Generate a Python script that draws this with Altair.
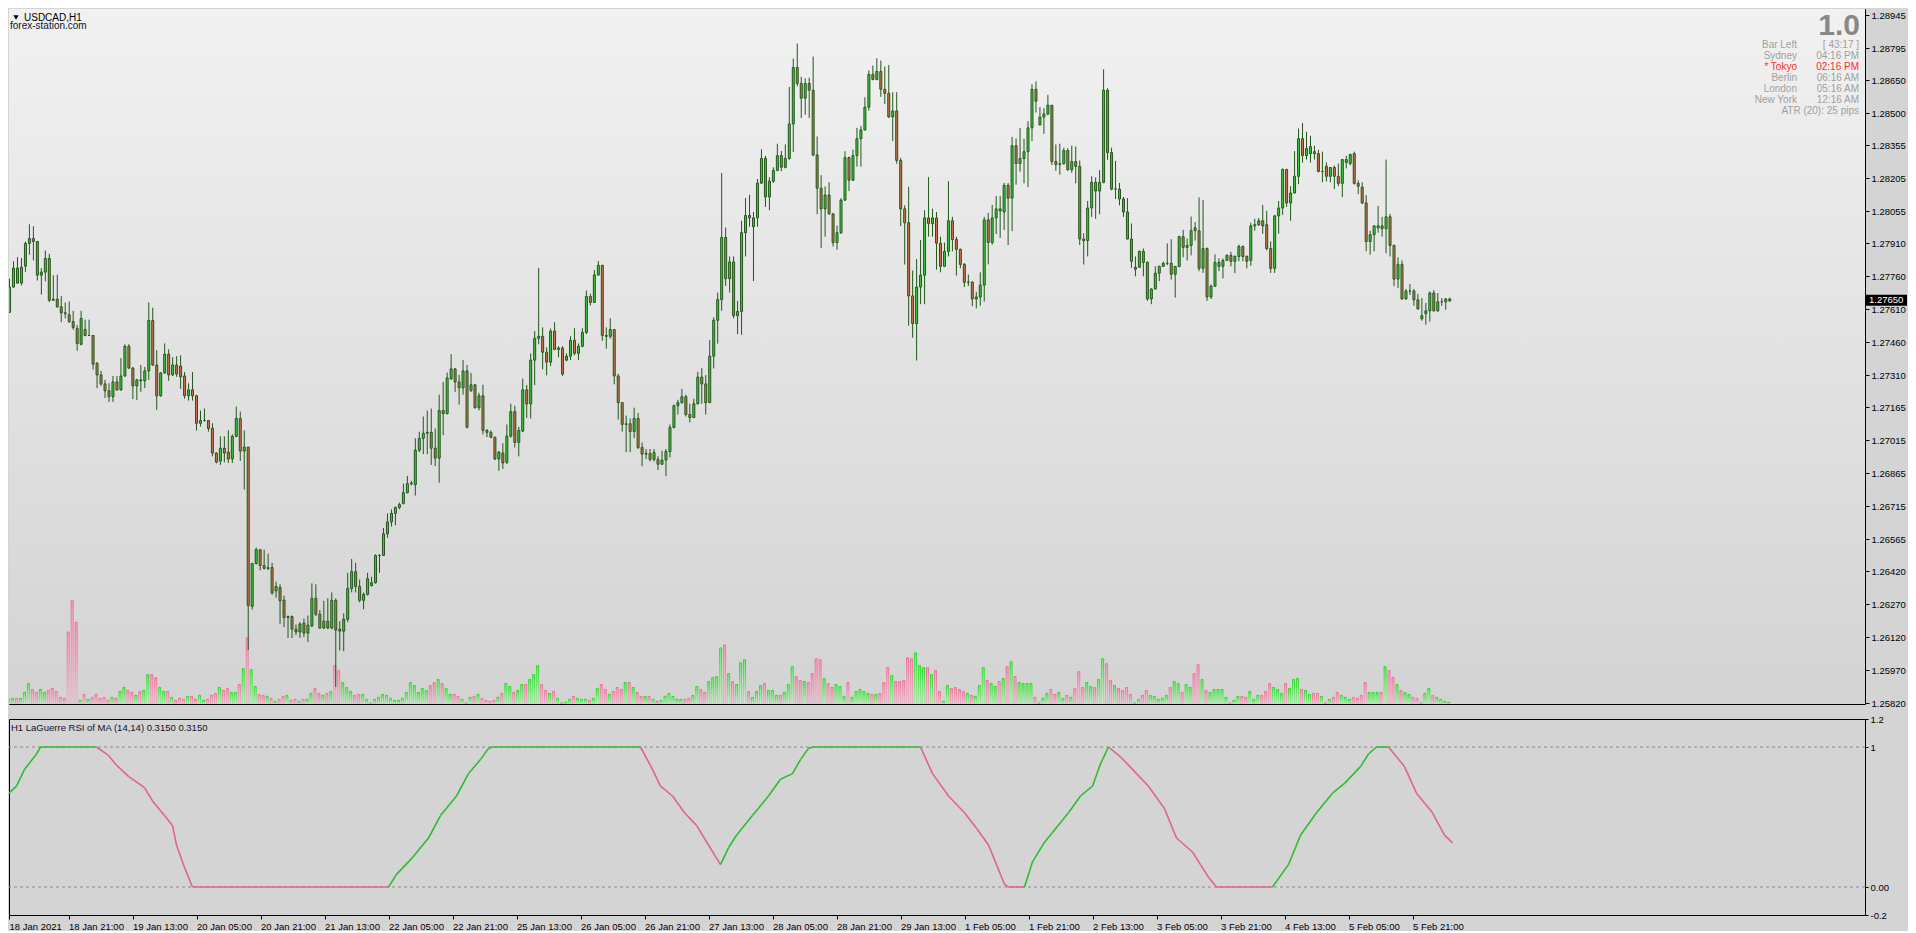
import altair as alt
import pandas as pd

# ---------------- data ----------------
OPEN = [
1.27595,1.27710,1.27796,1.27728,1.27805,1.27908,1.27930,1.27917,1.27764,1.27778,
1.27840,1.27655,1.27655,1.27620,1.27593,1.27584,1.27553,1.27522,1.27450,1.27517,
1.27490,1.27490,1.27364,1.27311,1.27270,1.27239,1.27212,1.27279,1.27243,1.27306,
1.27441,1.27342,1.27261,1.27288,1.27284,1.27329,1.27558,1.27356,1.27216,1.27320,
1.27405,1.27311,1.27356,1.27351,1.27306,1.27216,1.27243,1.27216,1.27091,1.27104,
1.27104,1.27068,1.26956,1.26920,1.26978,1.26960,1.26929,1.27032,1.27113,1.26965,
1.26983,1.26260,1.26454,1.26517,1.26445,1.26432,1.26436,1.26330,1.26345,1.26288,
1.26209,1.26213,1.26156,1.26143,1.26183,1.26138,1.26171,1.26296,1.26224,1.26161,
1.26192,1.26161,1.26287,1.26156,1.26147,1.26201,1.26341,1.26417,1.26350,1.26287,
1.26314,1.26354,1.26367,1.26490,1.26491,1.26589,1.26643,1.26682,1.26709,1.26727,
1.26776,1.26817,1.26812,1.26969,1.27023,1.27046,1.27050,1.26978,1.26933,1.27149,
1.27135,1.27293,1.27338,1.27279,1.27252,1.27329,1.27239,1.27266,1.27162,1.27216,
1.27059,1.27050,1.27028,1.26929,1.26956,1.26914,1.27033,1.27144,1.27004,1.27056,
1.27243,1.27179,1.27378,1.27477,1.27486,1.27414,1.27369,1.27510,1.27427,1.27433,
1.27378,1.27396,1.27468,1.27409,1.27441,1.27504,1.27667,1.27640,1.27765,1.27809,
1.27490,1.27486,1.27517,1.27306,1.27185,1.27086,1.27089,1.27054,1.27113,1.26981,
1.26951,1.26954,1.26927,1.26927,1.26905,1.26924,1.26963,1.27072,1.27171,1.27185,
1.27212,1.27131,1.27117,1.27180,1.27301,1.27270,1.27185,1.27396,1.27559,1.27653,
1.27935,1.27748,1.27824,1.27580,1.27599,1.27957,1.28035,1.27984,1.28024,1.28182,
1.28294,1.28119,1.28191,1.28240,1.28307,1.28254,1.28294,1.28451,1.28707,1.28635,
1.28568,1.28635,1.28604,1.28310,1.28159,1.28065,1.28128,1.28042,1.27912,1.27957,
1.28105,1.28298,1.28195,1.28307,1.28384,1.28424,1.28527,1.28676,1.28653,1.28689,
1.28608,1.28590,1.28483,1.28510,1.28285,1.28065,1.28002,1.27670,1.27544,1.27710,
1.27764,1.28024,1.27998,1.28024,1.27909,1.27804,1.27872,1.28011,1.27926,1.27881,
1.27813,1.27732,1.27732,1.27656,1.27665,1.27719,1.28015,1.27912,1.28024,1.28065,
1.28051,1.28172,1.28114,1.28352,1.28271,1.28294,1.28325,1.28433,1.28608,1.28446,
1.28482,1.28496,1.28536,1.28280,1.28267,1.28270,1.28330,1.28243,1.28280,1.28258,
1.27928,1.27921,1.28069,1.28186,1.28146,1.28186,1.28604,1.28321,1.28155,1.28155,
1.28110,1.28051,1.27928,1.27791,1.27800,1.27872,1.27822,1.27656,1.27701,1.27773,
1.27804,1.27818,1.27818,1.27768,1.27804,1.27939,1.27890,1.27899,1.27979,1.27966,
1.27795,1.27885,1.27665,1.27714,1.27804,1.27804,1.27831,1.27854,1.27827,1.27849,
1.27894,1.27849,1.27831,1.27988,1.27993,1.28011,1.27993,1.27885,1.27795,1.28033,
1.28069,1.28244,1.28092,1.28137,1.28213,1.28384,1.28307,1.28316,1.28325,1.28316,
1.28235,1.28258,1.28213,1.28253,1.28213,1.28181,1.28276,1.28271,1.28316,1.28181,
1.28164,1.28092,1.27917,1.27948,1.27979,1.27988,1.27975,1.28029,1.27899,1.27746,
1.27813,1.27656,1.27692,1.27692,1.27652,1.27566,1.27589,1.27602,1.27683,1.27602,
1.27643,1.27643,1.27647]

HIGH = [
1.27748,1.27827,1.27846,1.27842,1.27917,1.27995,1.27986,1.27917,1.27796,1.27876,
1.27861,1.27764,1.27766,1.27670,1.27640,1.27644,1.27602,1.27538,1.27602,1.27562,
1.27562,1.27490,1.27369,1.27329,1.27288,1.27273,1.27306,1.27306,1.27387,1.27450,
1.27450,1.27347,1.27293,1.27356,1.27347,1.27640,1.27616,1.27423,1.27324,1.27454,
1.27427,1.27391,1.27396,1.27400,1.27324,1.27273,1.27324,1.27221,1.27149,1.27158,
1.27104,1.27091,1.26960,1.27032,1.27032,1.27059,1.27041,1.27167,1.27144,1.27059,
1.26983,1.26457,1.26526,1.26517,1.26517,1.26499,1.26457,1.26372,1.26360,1.26308,
1.26218,1.26218,1.26177,1.26188,1.26204,1.26218,1.26364,1.26360,1.26243,1.26285,
1.26296,1.26323,1.26296,1.26192,1.26228,1.26412,1.26475,1.26457,1.26381,1.26323,
1.26412,1.26394,1.26496,1.26496,1.26616,1.26682,1.26700,1.26713,1.26731,1.26817,
1.26852,1.26830,1.27023,1.27053,1.27122,1.27149,1.27158,1.27068,1.27221,1.27279,
1.27322,1.27405,1.27342,1.27311,1.27378,1.27356,1.27320,1.27270,1.27230,1.27266,
1.27065,1.27059,1.27028,1.26965,1.27001,1.27086,1.27180,1.27171,1.27075,1.27294,
1.27265,1.27408,1.27510,1.27797,1.27527,1.27436,1.27521,1.27550,1.27441,1.27441,
1.27409,1.27486,1.27523,1.27454,1.27523,1.27694,1.27680,1.27788,1.27828,1.27809,
1.27527,1.27568,1.27517,1.27316,1.27185,1.27126,1.27113,1.27162,1.27138,1.27004,
1.26974,1.26974,1.26974,1.26941,1.26966,1.26974,1.27086,1.27176,1.27198,1.27248,
1.27221,1.27180,1.27203,1.27325,1.27342,1.27310,1.27469,1.27572,1.27685,1.28228,
1.27980,1.27849,1.27849,1.27647,1.28011,1.28114,1.28129,1.28051,1.28201,1.28336,
1.28306,1.28209,1.28254,1.28361,1.28328,1.28358,1.28619,1.28748,1.28816,1.28665,
1.28658,1.28661,1.28757,1.28394,1.28218,1.28167,1.28186,1.28047,1.27989,1.28114,
1.28327,1.28303,1.28334,1.28433,1.28442,1.28572,1.28694,1.28716,1.28749,1.28739,
1.28712,1.28718,1.28595,1.28595,1.28297,1.28081,1.28165,1.27785,1.27837,1.27924,
1.28059,1.28209,1.28066,1.28051,1.27939,1.27912,1.28191,1.28029,1.27939,1.27885,
1.27819,1.27767,1.27737,1.27688,1.27777,1.28029,1.28047,1.28083,1.28123,1.28123,
1.28183,1.28183,1.28392,1.28385,1.28433,1.28384,1.28463,1.28631,1.28644,1.28527,
1.28523,1.28583,1.28536,1.28358,1.28361,1.28343,1.28340,1.28352,1.28348,1.28285,
1.27954,1.28101,1.28213,1.28208,1.28241,1.28699,1.28613,1.28343,1.28283,1.28183,
1.28119,1.28114,1.27999,1.27849,1.27876,1.27885,1.27827,1.27705,1.27804,1.27807,
1.27825,1.27908,1.27927,1.27804,1.27943,1.27970,1.27930,1.28030,1.28005,1.28117,
1.28105,1.27890,1.27722,1.27858,1.27840,1.27840,1.27858,1.27870,1.27854,1.27903,
1.27899,1.27854,1.28002,1.28020,1.28024,1.28083,1.28056,1.27917,1.28038,1.28101,
1.28249,1.28247,1.28168,1.28327,1.28430,1.28455,1.28415,1.28397,1.28352,1.28334,
1.28325,1.28276,1.28253,1.28262,1.28271,1.28292,1.28306,1.28316,1.28325,1.28195,
1.28186,1.28128,1.27966,1.27988,1.28078,1.28029,1.28289,1.28042,1.27903,1.27845,
1.27831,1.27701,1.27723,1.27701,1.27679,1.27660,1.27638,1.27690,1.27696,1.27683,
1.27660,1.27660,1.27662]

LOW = [
1.27592,1.27707,1.27725,1.27718,1.27779,1.27857,1.27831,1.27740,1.27676,1.27736,
1.27641,1.27650,1.27616,1.27550,1.27568,1.27547,1.27516,1.27421,1.27445,1.27486,
1.27487,1.27335,1.27251,1.27261,1.27206,1.27188,1.27188,1.27239,1.27239,1.27302,
1.27338,1.27201,1.27197,1.27234,1.27251,1.27288,1.27351,1.27152,1.27212,1.27315,
1.27284,1.27306,1.27302,1.27248,1.27203,1.27194,1.27194,1.27058,1.27076,1.27098,
1.27053,1.26941,1.26909,1.26902,1.26914,1.26911,1.26911,1.27028,1.26920,1.26790,
1.26061,1.26245,1.26450,1.26423,1.26427,1.26424,1.26312,1.26299,1.26180,1.26165,
1.26116,1.26116,1.26129,1.26116,1.26120,1.26098,1.26165,1.26215,1.26158,1.26156,
1.26156,1.26156,1.25893,1.26059,1.26056,1.26188,1.26323,1.26323,1.26278,1.26246,
1.26309,1.26350,1.26363,1.26412,1.26490,1.26571,1.26622,1.26628,1.26700,1.26722,
1.26772,1.26808,1.26763,1.26960,1.26951,1.26951,1.26902,1.26897,1.26821,1.27037,
1.27131,1.27288,1.27234,1.27176,1.27221,1.27068,1.27234,1.27158,1.27150,1.27040,
1.27028,1.27023,1.26924,1.26875,1.26884,1.26906,1.27026,1.26981,1.26941,1.27051,
1.27116,1.27113,1.27265,1.27450,1.27336,1.27309,1.27351,1.27423,1.27391,1.27306,
1.27373,1.27378,1.27400,1.27378,1.27436,1.27496,1.27626,1.27640,1.27760,1.27466,
1.27430,1.27475,1.27268,1.27108,1.27053,1.26960,1.26960,1.27023,1.26974,1.26896,
1.26929,1.26918,1.26917,1.26879,1.26903,1.26851,1.26936,1.27068,1.27131,1.27180,
1.27122,1.27095,1.27116,1.27176,1.27180,1.27131,1.27185,1.27340,1.27453,1.27602,
1.27715,1.27685,1.27568,1.27496,1.27493,1.27849,1.27984,1.27737,1.27984,1.28179,
1.28074,1.28059,1.28183,1.28236,1.28236,1.28249,1.28288,1.28324,1.28622,1.28478,
1.28493,1.28478,1.28304,1.28041,1.27888,1.27939,1.28041,1.27894,1.27879,1.27951,
1.28101,1.28146,1.28194,1.28257,1.28257,1.28421,1.28511,1.28649,1.28649,1.28574,
1.28541,1.28478,1.28373,1.28270,1.27987,1.27812,1.27535,1.27480,1.27376,1.27632,
1.27632,1.27939,1.27939,1.27789,1.27777,1.27804,1.27849,1.27872,1.27762,1.27795,
1.27710,1.27715,1.27623,1.27613,1.27625,1.27644,1.27813,1.27903,1.27951,1.27933,
1.27969,1.27901,1.27964,1.28175,1.28234,1.28181,1.28164,1.28373,1.28503,1.28446,
1.28406,1.28490,1.28264,1.28238,1.28220,1.28267,1.28238,1.28229,1.28181,1.27901,
1.27812,1.27849,1.28029,1.28020,1.28041,1.28181,1.28288,1.28149,1.28110,1.28081,
1.28029,1.27928,1.27797,1.27759,1.27797,1.27759,1.27647,1.27632,1.27700,1.27737,
1.27804,1.27809,1.27744,1.27662,1.27800,1.27845,1.27831,1.27854,1.27921,1.27782,
1.27774,1.27647,1.27656,1.27710,1.27782,1.27749,1.27831,1.27804,1.27773,1.27827,
1.27827,1.27795,1.27807,1.27966,1.27988,1.27952,1.27876,1.27774,1.27774,1.27952,
1.28038,1.28074,1.28011,1.28137,1.28177,1.28276,1.28289,1.28276,1.28289,1.28231,
1.28186,1.28190,1.28186,1.28155,1.28168,1.28119,1.28249,1.28262,1.28175,1.28132,
1.28087,1.27872,1.27857,1.27872,1.27957,1.27939,1.27863,1.27849,1.27714,1.27705,
1.27652,1.27652,1.27674,1.27625,1.27607,1.27557,1.27539,1.27553,1.27598,1.27598,
1.27625,1.27607,1.27643]

CLOSE = [
1.27710,1.27796,1.27728,1.27800,1.27908,1.27930,1.27917,1.27764,1.27778,1.27840,
1.27650,1.27650,1.27620,1.27593,1.27589,1.27553,1.27526,1.27454,1.27567,1.27490,
1.27490,1.27360,1.27311,1.27270,1.27239,1.27212,1.27279,1.27243,1.27306,1.27441,
1.27342,1.27261,1.27288,1.27284,1.27329,1.27558,1.27356,1.27216,1.27320,1.27405,
1.27311,1.27356,1.27315,1.27302,1.27216,1.27243,1.27216,1.27091,1.27104,1.27104,
1.27068,1.26956,1.26915,1.26978,1.26956,1.26929,1.27032,1.27113,1.26965,1.26983,
1.26263,1.26454,1.26517,1.26445,1.26432,1.26435,1.26321,1.26350,1.26285,1.26209,
1.26213,1.26156,1.26143,1.26179,1.26138,1.26174,1.26296,1.26224,1.26161,1.26192,
1.26161,1.26287,1.26152,1.26147,1.26201,1.26341,1.26417,1.26350,1.26287,1.26314,
1.26385,1.26367,1.26490,1.26491,1.26589,1.26643,1.26682,1.26709,1.26722,1.26776,
1.26817,1.26820,1.26969,1.27023,1.27046,1.27050,1.26978,1.26933,1.27149,1.27135,
1.27297,1.27338,1.27279,1.27252,1.27329,1.27073,1.27266,1.27162,1.27216,1.27059,
1.27050,1.27028,1.26929,1.26960,1.26911,1.27033,1.27144,1.27004,1.27059,1.27243,
1.27179,1.27378,1.27477,1.27486,1.27414,1.27369,1.27510,1.27427,1.27433,1.27315,
1.27396,1.27468,1.27409,1.27441,1.27504,1.27667,1.27640,1.27765,1.27809,1.27490,
1.27486,1.27517,1.27306,1.27185,1.27086,1.27089,1.27054,1.27113,1.26981,1.26951,
1.26954,1.26927,1.26959,1.26905,1.26924,1.26963,1.27072,1.27171,1.27185,1.27212,
1.27131,1.27117,1.27180,1.27301,1.27270,1.27185,1.27396,1.27559,1.27653,1.27935,
1.27748,1.27824,1.27580,1.27599,1.27957,1.28035,1.28024,1.28024,1.28182,1.28294,
1.28119,1.28191,1.28240,1.28307,1.28254,1.28294,1.28451,1.28707,1.28635,1.28568,
1.28635,1.28604,1.28310,1.28159,1.28065,1.28128,1.28042,1.27912,1.27957,1.28105,
1.28298,1.28195,1.28307,1.28384,1.28424,1.28527,1.28676,1.28653,1.28689,1.28608,
1.28590,1.28483,1.28510,1.28285,1.28065,1.28002,1.27670,1.27544,1.27710,1.27764,
1.28024,1.27998,1.28024,1.27909,1.27804,1.27872,1.28011,1.27926,1.27881,1.27813,
1.27732,1.27732,1.27656,1.27665,1.27719,1.28015,1.27912,1.28024,1.28065,1.28056,
1.28172,1.28114,1.28352,1.28271,1.28294,1.28325,1.28433,1.28608,1.28554,1.28482,
1.28496,1.28536,1.28280,1.28267,1.28270,1.28330,1.28243,1.28280,1.28258,1.27928,
1.27921,1.28069,1.28186,1.28146,1.28186,1.28604,1.28321,1.28155,1.28155,1.28110,
1.28051,1.27928,1.27827,1.27800,1.27872,1.27822,1.27656,1.27701,1.27773,1.27804,
1.27818,1.27818,1.27768,1.27804,1.27939,1.27890,1.27899,1.27966,1.27966,1.27795,
1.27885,1.27665,1.27714,1.27822,1.27822,1.27831,1.27854,1.27827,1.27849,1.27894,
1.27849,1.27827,1.27988,1.27993,1.28011,1.27988,1.27885,1.27795,1.28033,1.28069,
1.28244,1.28092,1.28137,1.28213,1.28384,1.28307,1.28339,1.28348,1.28316,1.28235,
1.28235,1.28213,1.28253,1.28213,1.28181,1.28289,1.28289,1.28312,1.28181,1.28168,
1.28092,1.27917,1.27948,1.27988,1.27988,1.27975,1.28029,1.27899,1.27746,1.27813,
1.27656,1.27692,1.27692,1.27652,1.27611,1.27580,1.27602,1.27683,1.27602,1.27643,
1.27643,1.27656,1.27656]

VOLUME = [
15,17,17,17,35,62,44,35,44,35,
41,47,38,20,17,218,314,248,11,29,
14,20,29,17,20,11,20,17,38,50,
41,35,26,38,41,89,89,80,50,38,
38,20,11,17,14,23,23,14,26,11,
14,26,32,50,41,47,35,35,59,107,
200,104,53,29,26,23,17,8,14,23,
26,11,14,8,14,14,32,47,32,26,
32,38,116,101,65,50,38,26,29,29,
14,3,14,20,29,26,17,11,11,17,
35,65,56,35,47,41,56,65,74,62,
47,29,29,23,14,3,20,23,29,17,
11,8,11,20,32,62,53,35,41,59,
59,74,89,116,59,41,32,38,17,3,
5,14,23,17,14,14,11,17,47,59,
44,29,38,50,44,65,65,50,35,23,
23,23,14,8,11,23,32,23,14,14,
14,17,26,53,44,35,68,80,83,170,
179,92,68,59,125,134,38,20,38,56,
62,41,41,26,26,35,59,113,83,71,
68,65,92,137,134,77,62,50,59,53,
23,65,20,38,44,38,32,29,29,32,
65,110,86,68,68,71,140,137,155,116,
110,110,89,101,38,8,56,47,50,44,
38,32,26,23,56,110,71,62,53,68,
77,113,128,83,65,62,62,62,20,3,
17,32,44,29,35,17,26,20,47,98,
50,65,53,50,74,137,122,71,56,47,
41,50,29,3,14,26,41,26,23,14,
17,26,50,68,62,35,59,50,92,119,
74,41,35,44,44,44,20,3,11,23,
23,20,38,14,26,26,38,62,50,44,
32,62,47,74,77,44,41,29,32,32,
23,3,14,20,35,26,20,14,20,17,
26,65,35,35,35,35,113,101,80,59,
41,35,29,20,17,3,32,47,26,20,
14,8,5]

RSI_BAR = [0,3,5,8,9,23,26,28,31,35,37,40,42,43,45,47,96,98,102,106,109,113,116,119,121,
           122,159,162,164,167,170,173,176,179,181,183,187,191,194,197,199,201,202,229,232,
           236,240,243,246,248,250,251,255,257,260,262,266,269,272,274,276,279,283,286,290,
           293,297,299,301,303,317,321,324,328,332,335,339,341,343,346,350,353,357,360,362]
RSI_VAL = [0.64,0.72,0.84,0.95,1.0,1.0,0.94,0.87,0.79,0.71,0.615,0.51,0.44,0.30,0.14,0.0,0.0,0.09,0.21,0.35,
           0.51,0.65,0.81,0.91,0.99,1.0,1.0,0.84,0.72,0.65,0.53,0.44,0.30,0.16,0.28,0.37,0.51,0.65,0.77,0.81,
           0.91,0.99,1.0,1.0,0.81,0.65,0.53,0.42,0.30,0.16,0.02,0.0,0.0,0.18,0.32,0.39,0.53,0.65,0.72,0.88,
           1.0,0.93,0.81,0.72,0.56,0.35,0.25,0.16,0.07,0.0,0.0,0.16,0.37,0.53,0.67,0.74,0.86,0.95,1.0,1.0,
           0.86,0.67,0.53,0.37,0.315]

PRICE_TICKS = [1.28945,1.28795,1.28650,1.28500,1.28355,1.28205,1.28055,1.27910,1.27760,1.27610,1.27460,
               1.27310,1.27165,1.27015,1.26865,1.26715,1.26565,1.26420,1.26270,1.26120,1.25970,1.25820]
DATE_TICK_BARS = [0,16,32,48,64,80,96,112,128,144,160,176,192,208,224,240,256,272,288,304,320,336,352]
DATE_LABELS = ['18 Jan 2021','18 Jan 21:00','19 Jan 13:00','20 Jan 05:00','20 Jan 21:00','21 Jan 13:00',
               '22 Jan 05:00','22 Jan 21:00','25 Jan 13:00','26 Jan 05:00','26 Jan 21:00','27 Jan 13:00',
               '28 Jan 05:00','28 Jan 21:00','29 Jan 13:00','1 Feb 05:00','1 Feb 21:00','2 Feb 13:00',
               '3 Feb 05:00','3 Feb 21:00','4 Feb 13:00','5 Feb 05:00','5 Feb 21:00']
RSI_TICKS = [1.2, 1.0, 0.0, -0.2]
RSI_TICK_LABELS = ['1.2', '1', '0.00', '-0.2']
RSI_LEVELS = [1.0, 0.0]
LAST_PRICE = 1.27650
LAST_PRICE_TEXT = '1.27650'

INFO_LABELS = ['Bar Left', 'Sydney', '* Tokyo', 'Berlin', 'London', 'New York']
INFO_VALUES = ['[ 43:17 ]', '04:16 PM', '02:16 PM', '06:16 AM', '05:16 AM', '12:16 AM']
ATR_TEXT = 'ATR (20): 25 pips'
BIG_TEXT = '1.0'
SYMBOL_TEXT = 'USDCAD,H1'
SITE_TEXT = 'forex-station.com'
RSI_TITLE = 'H1 LaGuerre RSI of MA (14,14) 0.3150 0.3150'

assert len(OPEN) == len(HIGH) == len(LOW) == len(CLOSE) == len(VOLUME), (
    len(OPEN), len(HIGH), len(LOW), len(CLOSE), len(VOLUME))
assert len(RSI_BAR) == len(RSI_VAL)

# ---------------- layout / style ----------------
FONT = 'Liberation Sans'
W = 1856
H_MAIN = 695
H_RSI = 196
X_START = 1.125                        # first bar sits half-hidden at the left border, as in MT4
X_DOMAIN = [X_START, X_START + W / 4]  # 4 px per hourly bar
P_DOMAIN = [1.25816, 1.28973]
V_DOMAIN = [0, H_MAIN * 3.03]
R_DOMAIN = [-0.2, 1.2]

WICK = '#21581a'
BULL = '#3ccc3c'
BEAR = '#d07050'
RSI_UP = '#2ebd2e'
RSI_DN = '#e0648c'
BG = '#d4d4d4'

n = len(OPEN)
df = pd.DataFrame({'bar': list(range(n)), 'open': OPEN, 'high': HIGH, 'low': LOW,
                   'close': CLOSE, 'vol': VOLUME})
df['dir'] = ['up' if c >= o else 'down' for o, c in zip(OPEN, CLOSE)]

xscale = alt.Scale(domain=X_DOMAIN, nice=False, zero=False)
pscale = alt.Scale(domain=P_DOMAIN, nice=False, zero=False)
vscale = alt.Scale(domain=V_DOMAIN, nice=False)
rscale = alt.Scale(domain=R_DOMAIN, nice=False, zero=False)

price_axis = alt.Axis(orient='right', values=PRICE_TICKS, format='.5f', title=None, grid=False,
                      domain=False, tickSize=4, tickColor='black', labelPadding=2,
                      labelOverlap=False, labelColor='black', labelFont=FONT, labelFontSize=9.5)


def grad(top, bottom):
    return alt.LinearGradient(gradient='linear',
                              stops=[alt.GradientStop(offset=0, color=top),
                                     alt.GradientStop(offset=1, color=bottom)],
                              x1=0, x2=0, y1=0, y2=1)


# background gradient of the price window
bg = alt.Chart(pd.DataFrame({'k': [0]})).mark_rect(fill=grad('#f1f1f1', '#d3d3d3')).encode(
    x=alt.value(0), x2=alt.value(W), y=alt.value(0), y2=alt.value(H_MAIN))


def vol_layer(direction, edge_top, edge_bottom, fill_top, fill_bottom):
    return alt.Chart(df).transform_filter(alt.datum.dir == direction).mark_bar(
        size=2, xOffset=-1, fill=grad(fill_top, fill_bottom), clip=True,
        stroke=grad(edge_top, edge_bottom), strokeWidth=1
    ).encode(x=alt.X('bar:Q', scale=xscale, axis=None),
             y=alt.Y('vol:Q', scale=vscale, axis=None))


vols = alt.layer(vol_layer('up', '#22dd22', '#aee6ae', '#7ee87e', '#d4e6d4'),
                 vol_layer('down', '#ee6e98', '#e6b8c6', '#f2a6be', '#e2d0d4'))

wick = alt.Chart(df).mark_rule(color=WICK, strokeWidth=1, clip=True).encode(
    x=alt.X('bar:Q', scale=xscale, axis=None),
    y=alt.Y('low:Q', scale=pscale, axis=price_axis),
    y2='high:Q')
body = alt.Chart(df).mark_bar(size=2, stroke=WICK, strokeWidth=1, clip=True).encode(
    x=alt.X('bar:Q', scale=xscale, axis=None),
    y=alt.Y('open:Q', scale=pscale, axis=price_axis),
    y2='close:Q',
    fill=alt.Fill('dir:N', scale=alt.Scale(domain=['up', 'down'], range=[BULL, BEAR]), legend=None))

lp = pd.DataFrame({'p': [LAST_PRICE], 't': [LAST_PRICE_TEXT]})
lp_box = alt.Chart(lp).mark_rect(color='black', yOffset=-5.5, y2Offset=5.5).encode(
    x=alt.value(W + 1), x2=alt.value(W + 42), y=alt.Y('p:Q', scale=pscale, axis=price_axis), y2='p:Q')
lp_txt = alt.Chart(lp).mark_text(align='left', baseline='middle', color='white', font=FONT,
                                 fontSize=9.5, dx=3).encode(
    x=alt.value(W + 1), y=alt.Y('p:Q', scale=pscale, axis=price_axis), text='t:N')

prices = alt.layer(wick, body, lp_box, lp_txt)


def label(text, x, y, size=10, color='black', align='left', weight='normal'):
    return alt.Chart(pd.DataFrame({'t': [text]})).mark_text(
        align=align, baseline='middle', fontSize=size, color=color, fontWeight=weight, font=FONT
    ).encode(x=alt.value(x), y=alt.value(y), text='t:N')


texts = [
    alt.Chart(pd.DataFrame({'k': [0]})).mark_point(shape='triangle-down', filled=True, color='black',
                                                  size=28, opacity=1).encode(x=alt.value(7), y=alt.value(8.5)),
    label(SYMBOL_TEXT, 15, 8.5, 10),
    label(SITE_TEXT, 1, 16.5, 10, '#101030'),
    label(BIG_TEXT, W - 5, 17, 30, '#888888', 'right', 'bold'),
]
for k, (a, b) in enumerate(zip(INFO_LABELS, INFO_VALUES)):
    col = '#ff2a2a' if a.startswith('*') else '#a0a0a0'
    yy = 36 + 11 * k
    texts.append(label(a, W - 68, yy, 10, col, 'right'))
    texts.append(label(b, W - 6, yy, 10, col, 'right'))
texts.append(label(ATR_TEXT, W - 6, 36 + 11 * 6, 10, '#a0a0a0', 'right'))

main = alt.layer(bg, vols, prices, *texts).resolve_scale(y='independent').properties(
    width=W, height=H_MAIN)

# ---------------- RSI window ----------------
segs = []
prev = 'up'
for i in range(len(RSI_BAR) - 1):
    v1, v2 = RSI_VAL[i], RSI_VAL[i + 1]
    d = 'up' if v2 > v1 else ('down' if v2 < v1 else prev)
    prev = d
    segs.append({'x1': RSI_BAR[i], 'x2': RSI_BAR[i + 1], 'v1': v1, 'v2': v2, 'd': d})
seg_df = pd.DataFrame(segs)

# the first time label of an MT4 chart is pinned to the left border
tick_pos = [max(b, X_START) for b in DATE_TICK_BARS]
bars_js = '[' + ','.join(str(b) for b in tick_pos) + ']'
labs_js = '[' + ','.join("'" + s + "'" for s in DATE_LABELS) + ']'
x_axis = alt.Axis(values=tick_pos, labelExpr=f"{labs_js}[indexof({bars_js}, datum.value)]",
                  labelAlign='left', labelFlush=False, labelPadding=2, tickSize=4,
                  tickColor='black', domain=False, grid=False, title=None, labelOverlap=False,
                  labelColor='black', labelFont=FONT, labelFontSize=9.5)
rv_js = '[' + ','.join(str(v) for v in RSI_TICKS) + ']'
rl_js = '[' + ','.join("'" + s + "'" for s in RSI_TICK_LABELS) + ']'
r_axis = alt.Axis(orient='right', values=RSI_TICKS, labelExpr=f"{rl_js}[indexof({rv_js}, datum.value)]",
                  title=None, grid=False, domain=False, tickSize=3, tickColor='black', labelPadding=2,
                  labelOverlap=False, labelColor='black', labelFont=FONT, labelFontSize=9.5)

levels = alt.Chart(pd.DataFrame({'lvl': RSI_LEVELS})).mark_rule(
    color='#8a8a8a', strokeDash=[3, 3], strokeWidth=1).encode(y=alt.Y('lvl:Q', scale=rscale, axis=r_axis))
rsi_line = alt.Chart(seg_df).mark_rule(strokeWidth=1.6, clip=True).encode(
    x=alt.X('x1:Q', scale=xscale, axis=x_axis), x2='x2:Q',
    y=alt.Y('v1:Q', scale=rscale, axis=r_axis), y2='v2:Q',
    color=alt.Color('d:N', scale=alt.Scale(domain=['up', 'down'], range=[RSI_UP, RSI_DN]), legend=None))
rsi_title = label(RSI_TITLE, 2, 9, 9.5, '#101030')

rsi = alt.layer(levels, rsi_line, rsi_title).properties(width=W, height=H_RSI)

chart = alt.vconcat(main, rsi, spacing=4).properties(
    padding={'left': 0, 'top': 0, 'right': 0, 'bottom': 0}
).configure(background=BG).configure_view(stroke='black', strokeWidth=1)

chart.save('out.html', embed_options={'renderer': 'svg', 'actions': False})
